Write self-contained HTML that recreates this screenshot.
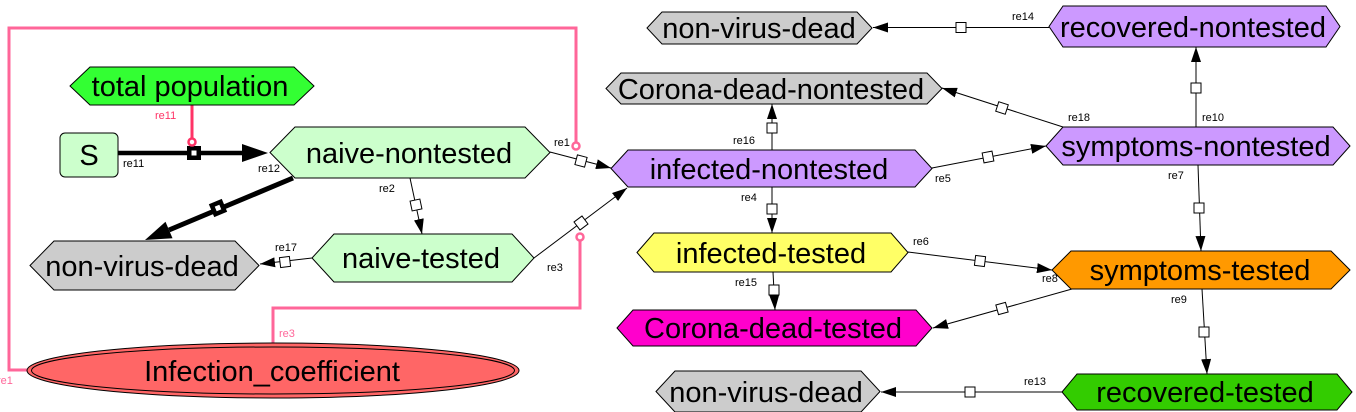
<!DOCTYPE html>
<html>
<head>
<meta charset="utf-8">
<style>
html,body{margin:0;padding:0;background:#fff;}
svg{display:block;}
.n{font-family:"Liberation Sans",Arial,sans-serif;font-size:29px;fill:#000;text-anchor:middle;}
.l{font-family:"Liberation Sans",Arial,sans-serif;font-size:11px;fill:#000;}
.p{font-family:"Liberation Sans",Arial,sans-serif;font-size:11px;}
.ln{stroke:#000;stroke-width:1;fill:none;}
.sq{fill:#fff;stroke:#000;stroke-width:1;}
</style>
</head>
<body>
<svg width="1356" height="412" viewBox="0 0 1356 412" xmlns="http://www.w3.org/2000/svg">
<defs>
<marker id="ah" markerUnits="userSpaceOnUse" markerWidth="15" markerHeight="10" refX="15" refY="5" orient="auto">
<path d="M0,0 L15,5 L0,10 z" fill="#000"/>
</marker>
</defs>

<!-- pink modifier lines -->
<polyline points="27,370 9,370 9,28 576,28 576,143" fill="none" stroke="#ff6699" stroke-width="3"/>
<polyline points="273,343 273,308 580,308 580,240" fill="none" stroke="#ff6699" stroke-width="3"/>
<line x1="192" y1="105" x2="192" y2="139" stroke="#ff3366" stroke-width="3"/>

<!-- thin reaction lines -->
<line class="ln" x1="410" y1="178" x2="422" y2="234" marker-end="url(#ah)"/>
<line class="ln" x1="312" y1="258" x2="260" y2="264" marker-end="url(#ah)"/>
<line class="ln" x1="550" y1="152" x2="611" y2="168" marker-end="url(#ah)"/>
<line class="ln" x1="534" y1="258" x2="627" y2="188" marker-end="url(#ah)"/>
<line class="ln" x1="772" y1="150" x2="772" y2="104" marker-end="url(#ah)"/>
<line class="ln" x1="772" y1="187" x2="772" y2="233" marker-end="url(#ah)"/>
<line class="ln" x1="932" y1="168" x2="1046" y2="146" marker-end="url(#ah)"/>
<line class="ln" x1="1063" y1="127" x2="942" y2="88" marker-end="url(#ah)"/>
<line class="ln" x1="1196" y1="127" x2="1196" y2="47" marker-end="url(#ah)"/>
<line class="ln" x1="1049" y1="27.5" x2="873" y2="27.5" marker-end="url(#ah)"/>
<line class="ln" x1="1198" y1="165" x2="1201" y2="251" marker-end="url(#ah)"/>
<line class="ln" x1="908" y1="252" x2="1052" y2="270" marker-end="url(#ah)"/>
<line class="ln" x1="1072" y1="289" x2="933" y2="328" marker-end="url(#ah)"/>
<line class="ln" x1="773" y1="272" x2="775" y2="310" marker-end="url(#ah)"/>
<line class="ln" x1="1202" y1="289" x2="1207" y2="374" marker-end="url(#ah)"/>
<line class="ln" x1="1062" y1="392" x2="881" y2="392" marker-end="url(#ah)"/>

<!-- thick reactions -->
<line x1="118" y1="153" x2="244" y2="153" stroke="#000" stroke-width="4.5"/>
<polygon points="242,144 268,153 242,162" fill="#000"/>
<line x1="293" y1="178" x2="169" y2="230" stroke="#000" stroke-width="5"/>
<polygon points="145,240 172.5,238.3 165.5,221.7" fill="#000"/>

<!-- thick squares -->
<g transform="translate(194,153)"><rect x="-7" y="-7" width="14" height="14" fill="#000"/><rect x="-2.5" y="-2.5" width="5" height="5" fill="#fff"/></g>
<g transform="translate(218,208) rotate(-22.7)"><rect x="-7" y="-7" width="14" height="14" fill="#000"/><rect x="-2.5" y="-2.5" width="5" height="5" fill="#fff"/></g>

<!-- thin squares -->
<rect class="sq" x="-5" y="-5" width="10" height="10" transform="translate(416,205) rotate(78)"/>
<rect class="sq" x="-5" y="-5" width="10" height="10" transform="translate(285,262) rotate(-7)"/>
<rect class="sq" x="-5" y="-5" width="10" height="10" transform="translate(581,161) rotate(14.7)"/>
<rect class="sq" x="-5" y="-5" width="10" height="10" transform="translate(581,223) rotate(-37)"/>
<rect class="sq" x="-5" y="-5" width="10" height="10" transform="translate(772,128)"/>
<rect class="sq" x="-5" y="-5" width="10" height="10" transform="translate(772,209)"/>
<rect class="sq" x="-5" y="-5" width="10" height="10" transform="translate(988,157) rotate(-10.9)"/>
<rect class="sq" x="-5" y="-5" width="10" height="10" transform="translate(1002,108) rotate(17.9)"/>
<rect class="sq" x="-5" y="-5" width="10" height="10" transform="translate(1196,88)"/>
<rect class="sq" x="-5" y="-5" width="10" height="10" transform="translate(961,27.5)"/>
<rect class="sq" x="-5" y="-5" width="10" height="10" transform="translate(1199,208)"/>
<rect class="sq" x="-5" y="-5" width="10" height="10" transform="translate(980,261) rotate(7.1)"/>
<rect class="sq" x="-5" y="-5" width="10" height="10" transform="translate(1002,308.5) rotate(-15.6)"/>
<rect class="sq" x="-5" y="-5" width="10" height="10" transform="translate(774,290)"/>
<rect class="sq" x="-5" y="-5" width="10" height="10" transform="translate(1204,332)"/>
<rect class="sq" x="-5" y="-5" width="10" height="10" transform="translate(970,392)"/>

<!-- pink circles -->
<circle cx="576" cy="146" r="3.5" fill="#fff" stroke="#ff6699" stroke-width="2.5"/>
<circle cx="580" cy="237" r="3.5" fill="#fff" stroke="#ff6699" stroke-width="2.5"/>
<circle cx="192" cy="142" r="3.5" fill="#fff" stroke="#ff3366" stroke-width="2.5"/>

<!-- nodes -->
<polygon points="70,86 90,67 294,67 314,86 294,105 90,105" fill="#33ff33" stroke="#000"/>
<text class="n" x="190" y="96">total population</text>

<rect x="60" y="133" width="58" height="44" rx="5" fill="#ccffcc" stroke="#000"/>
<text class="n" x="89" y="165">S</text>

<polygon points="270,152.5 295,127 525,127 550,152.5 525,178 295,178" fill="#ccffcc" stroke="#000"/>
<text class="n" x="409" y="163">naive-nontested</text>

<polygon points="312,258 334,234 512,234 534,258 512,282 334,282" fill="#ccffcc" stroke="#000"/>
<text class="n" x="421" y="268">naive-tested</text>

<polygon points="30,265.5 54,241 235,241 259,265.5 235,290 54,290" fill="#cccccc" stroke="#000"/>
<text class="n" x="142" y="276">non-virus-dead</text>

<polygon points="606,88.5 621,73 927,73 942,88.5 927,104 621,104" fill="#cccccc" stroke="#000"/>
<text class="n" x="771" y="99">Corona-dead-nontested</text>

<polygon points="647,28 662,12 857,12 872,28 857,44 662,44" fill="#cccccc" stroke="#000"/>
<text class="n" x="759" y="38">non-virus-dead</text>

<polygon points="1049,26.5 1063,6 1326,6 1340,26.5 1326,47 1063,47" fill="#cc99ff" stroke="#000"/>
<text class="n" x="1193" y="37">recovered-nontested</text>

<polygon points="611,168.5 628,150 915,150 932,168.5 915,187 628,187" fill="#cc99ff" stroke="#000"/>
<text class="n" x="769" y="179">infected-nontested</text>

<polygon points="1046,146 1063,127 1333,127 1350,146 1333,165 1063,165" fill="#cc99ff" stroke="#000"/>
<text class="n" x="1196" y="156">symptoms-nontested</text>

<polygon points="637,252.5 654,233 891,233 908,252.5 891,272 654,272" fill="#ffff66" stroke="#000"/>
<text class="n" x="771" y="263">infected-tested</text>

<polygon points="1052,270 1071,251 1331,251 1350,270 1331,289 1071,289" fill="#ff9900" stroke="#000"/>
<text class="n" x="1200" y="280">symptoms-tested</text>

<polygon points="617,328 633,310 916,310 932,328 916,346 633,346" fill="#ff00cc" stroke="#000"/>
<text class="n" x="773" y="338">Corona-dead-tested</text>

<polygon points="656,391.5 675,371 861,371 880,391.5 861,412 675,412" fill="#cccccc" stroke="#000"/>
<text class="n" x="766" y="402">non-virus-dead</text>

<polygon points="1062,392 1077,374 1337,374 1352,392 1337,410 1077,410" fill="#33cc00" stroke="#000"/>
<text class="n" x="1205" y="402">recovered-tested</text>

<!-- ellipse -->
<ellipse cx="273" cy="370.5" rx="246" ry="27.5" fill="#ff6666" stroke="#000"/>
<ellipse cx="273" cy="370.5" rx="241.5" ry="23.5" fill="none" stroke="#000"/>
<text class="n" x="272" y="381">Infection_coefficient</text>

<!-- reaction labels -->
<text class="l" x="123" y="167">re11</text>
<text class="l" x="258" y="172">re12</text>
<text class="l" x="379" y="192">re2</text>
<text class="l" x="275" y="251">re17</text>
<text class="l" x="554" y="146">re1</text>
<text class="l" x="547" y="271">re3</text>
<text class="l" x="733" y="144">re16</text>
<text class="l" x="741" y="201">re4</text>
<text class="l" x="935" y="182">re5</text>
<text class="l" x="1068" y="121">re18</text>
<text class="l" x="1202" y="121">re10</text>
<text class="l" x="1012" y="20">re14</text>
<text class="l" x="1168" y="179">re7</text>
<text class="l" x="913" y="245">re6</text>
<text class="l" x="1042" y="282">re8</text>
<text class="l" x="735" y="286">re15</text>
<text class="l" x="1171" y="303">re9</text>
<text class="l" x="1024" y="385">re13</text>
<text class="p" x="155" y="119" fill="#ff3366">re11</text>
<text class="p" x="279" y="337" fill="#ff6699">re3</text>
<text class="p" x="-3" y="384" fill="#ff6699">re1</text>
</svg>
</body>
</html>
